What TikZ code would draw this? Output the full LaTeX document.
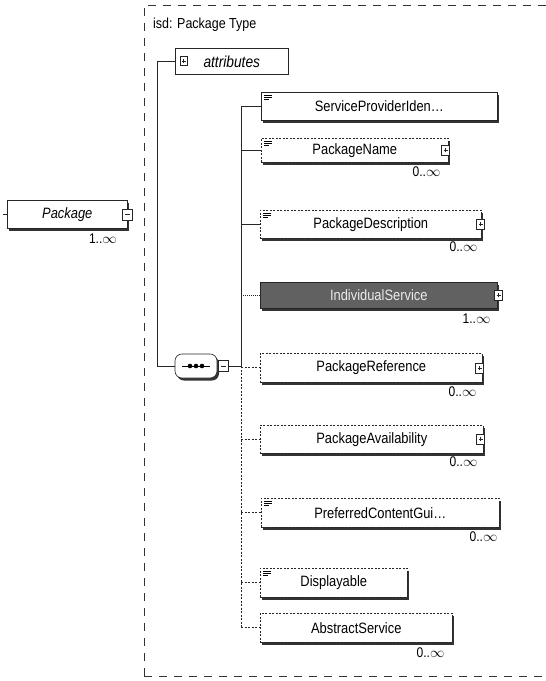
\documentclass[tikz,border=0pt]{standalone}
\usepackage{fontspec}
\setmainfont{Liberation Sans}[FakeStretch=0.86]
\usetikzlibrary{shadows}
\newcommand\linesicon[1]{%
  \draw[line width=0.8pt,solid] ([shift={(3pt,-3pt)}]#1.north west) -- ++(8pt,0pt)
    ([shift={(3pt,-5pt)}]#1.north west) -- ++(8pt,0pt)
    ([shift={(3pt,-7pt)}]#1.north west) -- ++(5pt,0pt);}
\newcommand\myinfty{\ensuremath{\infty}}
\tikzset{
  base/.style={draw=black!85, line width=0.6pt, fill=white, anchor=north west,
    inner sep=0pt, font=\fontsize{15}{17}\selectfont},
  req/.style={base, drop shadow={shadow xshift=2pt, shadow yshift=-2.5pt,
    fill=black!80, opacity=1}},
  opt/.style={req, dash pattern=on 2pt off 1.5pt},
  mult/.style={anchor=north east, inner sep=0pt, font=\fontsize{14}{16}\selectfont},
  iconbox/.style={draw=black!85, solid, fill=white, line width=0.6pt,
    minimum width=8pt, minimum height=10pt, inner sep=0pt},
  plusbox/.style={iconbox, path picture={
    \draw[line width=0.5pt] ([xshift=-2pt]path picture bounding box.center) -- ([xshift=2pt]path picture bounding box.center)
      ([yshift=-2pt]path picture bounding box.center) -- ([yshift=2pt]path picture bounding box.center);}},
  minusbox/.style={iconbox, minimum width=10pt, minimum height=11pt, path picture={
    \draw[line width=0.6pt] ([xshift=-2.5pt]path picture bounding box.center) -- ([xshift=2.5pt]path picture bounding box.center);}},
  conn/.style={line width=0.7pt, black!85},
  dconn/.style={conn, dash pattern=on 2pt off 1.5pt},
  frame/.style={line width=0.9pt, black!80, dash pattern=on 8pt off 7pt},
}
\begin{document}
\begin{tikzpicture}[x=1pt, y=-1pt]
\useasboundingbox (0,0) rectangle (546,681);
\clip (0,0) rectangle (546,681);

% outer frame
\draw[frame] (144,676) -- (144,5) -- (600,5);
\draw[frame] (144,676) -- (600,676);
\node[anchor=base west, inner sep=0pt, font=\fontsize{14.5}{16}\selectfont] (title) at (153,28) {isd: Package Type};

% Package element
\node[req, minimum width=120pt, minimum height=28pt, font=\fontsize{15}{17}\selectfont\itshape] (pkg) at (7,200) {Package};
\node[minusbox] (pkgm) at (pkg.east) {};
\node[mult] (pkgmult) at (117,234) {1..\myinfty};
\draw[conn] (pkg.west) -- ++(-4pt,0pt);

% attributes
\node[base, minimum width=113pt, minimum height=26pt, font=\fontsize{16}{18}\selectfont\itshape] (attr) at (175,48) {attributes};
\node[plusbox, minimum width=7pt, minimum height=9pt] (attrp) at (183.5,61) {};

% sequence compositor
\node[req, rounded corners=7pt, minimum width=42pt, minimum height=24pt, anchor=center] (seq) at (196,366) {};
\draw[line width=0.9pt] ([xshift=-14pt]seq.center) -- ([xshift=14pt]seq.center);
\foreach \d in {-6,0,6} \fill ([xshift=\d pt]seq.center) circle (2.3pt);
\node[minusbox] (seqm) at (223.5,366) {};

\coordinate (ax) at (157,0);
\coordinate (spine) at (241,0);
\draw[conn] (attr.west) -- (attr.west -| ax) |- (seq.west);

% children
\node[req, minimum width=236pt, minimum height=28pt] (sp) at (261,92) {ServiceProviderIden\ldots};
\linesicon{sp}

\node[opt, minimum width=187pt, minimum height=24pt] (pn) at (261,138) {PackageName};
\linesicon{pn}
\node[plusbox] (pnp) at ([xshift=-3pt]pn.east) {};
\node[mult] (pnm) at ([shift={(-8pt,-4pt)}]pn.south east) {0..\myinfty};

\node[opt, minimum width=221pt, minimum height=28pt] (pd) at (260,210) {PackageDescription};
\linesicon{pd}
\node[plusbox] (pdp) at ([xshift=-1pt]pd.east) {};
\node[mult] (pdm) at ([shift={(-4pt,-3pt)}]pd.south east) {0..\myinfty};

\node[req, fill=black!62, text=white!92!black, minimum width=237pt, minimum height=26pt] (is) at (260,282) {IndividualService};
\node[plusbox] (isp) at ([xshift=1pt]is.east) {};
\node[mult] (ism) at ([shift={(-7pt,-5pt)}]is.south east) {1..\myinfty};

\node[opt, minimum width=222pt, minimum height=29pt] (pr) at (260,353) {PackageReference};
\node[plusbox] (prp) at ([xshift=-3pt]pr.east) {};
\node[mult] (prm) at ([shift={(-6pt,-4pt)}]pr.south east) {0..\myinfty};

\node[opt, minimum width=223pt, minimum height=28pt] (pa) at (260,425) {PackageAvailability};
\node[plusbox] (pap) at ([xshift=-3pt]pa.east) {};
\node[mult] (pam) at ([shift={(-6pt,-3pt)}]pa.south east) {0..\myinfty};

\node[opt, minimum width=238pt, minimum height=29pt] (pc) at (261,498) {PreferredContentGui\ldots};
\linesicon{pc}
\node[mult] (pcm) at ([shift={(-2pt,-4pt)}]pc.south east) {0..\myinfty};

\node[opt, minimum width=147pt, minimum height=29pt] (di) at (260,568) {Displayable};
\linesicon{di}

\node[opt, minimum width=192pt, minimum height=29pt] (as) at (260,613) {AbstractService};
\node[mult] (asm) at ([shift={(-8pt,-5pt)}]as.south east) {0..\myinfty};

% connectors
\draw[conn] (seqm.east) -- (seqm.east -| spine);
\draw[conn] (sp.west -| spine) -- (seqm.east -| spine);
\draw[dconn] (seqm.east -| spine) -- (as.west -| spine);
\draw[conn] (sp.west -| spine) -- (sp.west);
\draw[conn] (pn.west -| spine) -- (pn.west);
\draw[conn] (pd.west -| spine) -- (pd.west);
\draw[conn, dash pattern=on 1pt off 1pt] (is.west -| spine) -- (is.west);
\draw[dconn] (pr.west -| spine) -- (pr.west);
\draw[dconn] (pa.west -| spine) -- (pa.west);
\draw[dconn] (pc.west -| spine) -- (pc.west);
\draw[dconn] (di.west -| spine) -- (di.west);
\draw[dconn] (as.west -| spine) -- (as.west);
\end{tikzpicture}
\end{document}
